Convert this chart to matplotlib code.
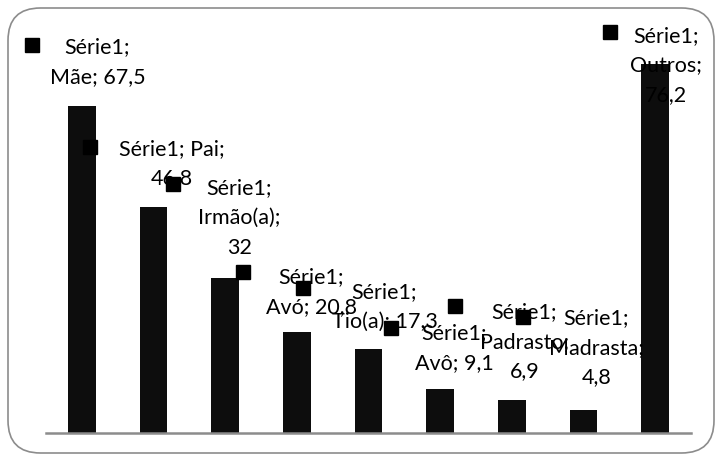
import matplotlib
matplotlib.use("Agg")
import matplotlib.pyplot as plt
import matplotlib.transforms as mtrans
from matplotlib.patches import FancyBboxPatch

series_name = "Série1"
categories = ["Mãe", "Pai", "Irmão(a)", "Avó", "Tio(a)", "Avô", "Padrasto", "Madrasta", "Outros"]
values = [67.5, 46.8, 32, 20.8, 17.3, 9.1, 6.9, 4.8, 76.2]

# layout of each data label: line-break style, text offset (px), key offset (px) from bar top
label_style = ["a", "b", "c", "a", "a", "a", "c", "c", "c"]
text_off = [(15.5, 44.5), (18, 43), (14, 60), (14.5, 40.5), (16, 42.5), (14, 41), (12.5, 58), (13, 62), (11, -1)]
key_off = [(-49.5, 61), (-63, 60), (-52, 94), (-53.5, 60), (-65, 61), (-49, 61), (-56.5, 94), (-61, 93), (-45, 32)]

W, H = 722, 461
fig = plt.figure(figsize=(W / 100, H / 100), dpi=100)
fig.patch.set_facecolor("white")

# rounded chart border
box = FancyBboxPatch((8 / W, 8 / H), (714 - 8) / W, (453 - 8) / H,
                     boxstyle="round,pad=0,rounding_size=0.045",
                     transform=fig.transFigure, facecolor="white",
                     edgecolor="#8c8c8c", linewidth=1.2, mutation_aspect=W / H,
                     zorder=-10)
fig.patches.append(box)

ax = fig.add_axes([46 / W, (H - 433) / H, 645 / W, (433 - 30) / H])
ax.set_zorder(5)
ax.set_facecolor("none")
x = list(range(len(categories)))
ax.bar(x, values, width=0.39, color="#0d0d0d", zorder=2)
ax.set_xlim(-0.5, len(categories) - 0.5)
ax.set_ylim(0, 83.3)
for s in ["top", "right", "left"]:
    ax.spines[s].set_visible(False)
ax.spines["bottom"].set_color("#8c8c8c")
ax.spines["bottom"].set_linewidth(1.8)
ax.set_xticks([])
ax.set_yticks([])

def fmt(v):
    s = f"{v:g}"
    return s.replace(".", ",")

font = "Lato"
fs = 15.5
for i, (cat, v) in enumerate(zip(categories, values)):
    st = label_style[i]
    if st == "a":
        txt = f"{series_name};\n{cat}; {fmt(v)}"
    elif st == "b":
        txt = f"{series_name}; {cat};\n{fmt(v)}"
    else:
        txt = f"{series_name};\n{cat};\n{fmt(v)}"
    ax.annotate(txt, xy=(i, v), xytext=text_off[i], textcoords="offset pixels",
                ha="center", va="center", multialignment="center",
                fontsize=fs, family=font, color="#000000", linespacing=1.6,
                zorder=3, annotation_clip=False)
    kx, ky = key_off[i]
    ax.plot([i], [v], marker="s", markersize=10, color="black", linestyle="none",
            transform=ax.transData + mtrans.ScaledTranslation(kx / 100, ky / 100, fig.dpi_scale_trans),
            zorder=4, clip_on=False)

fig.savefig("out.png", dpi=100)
